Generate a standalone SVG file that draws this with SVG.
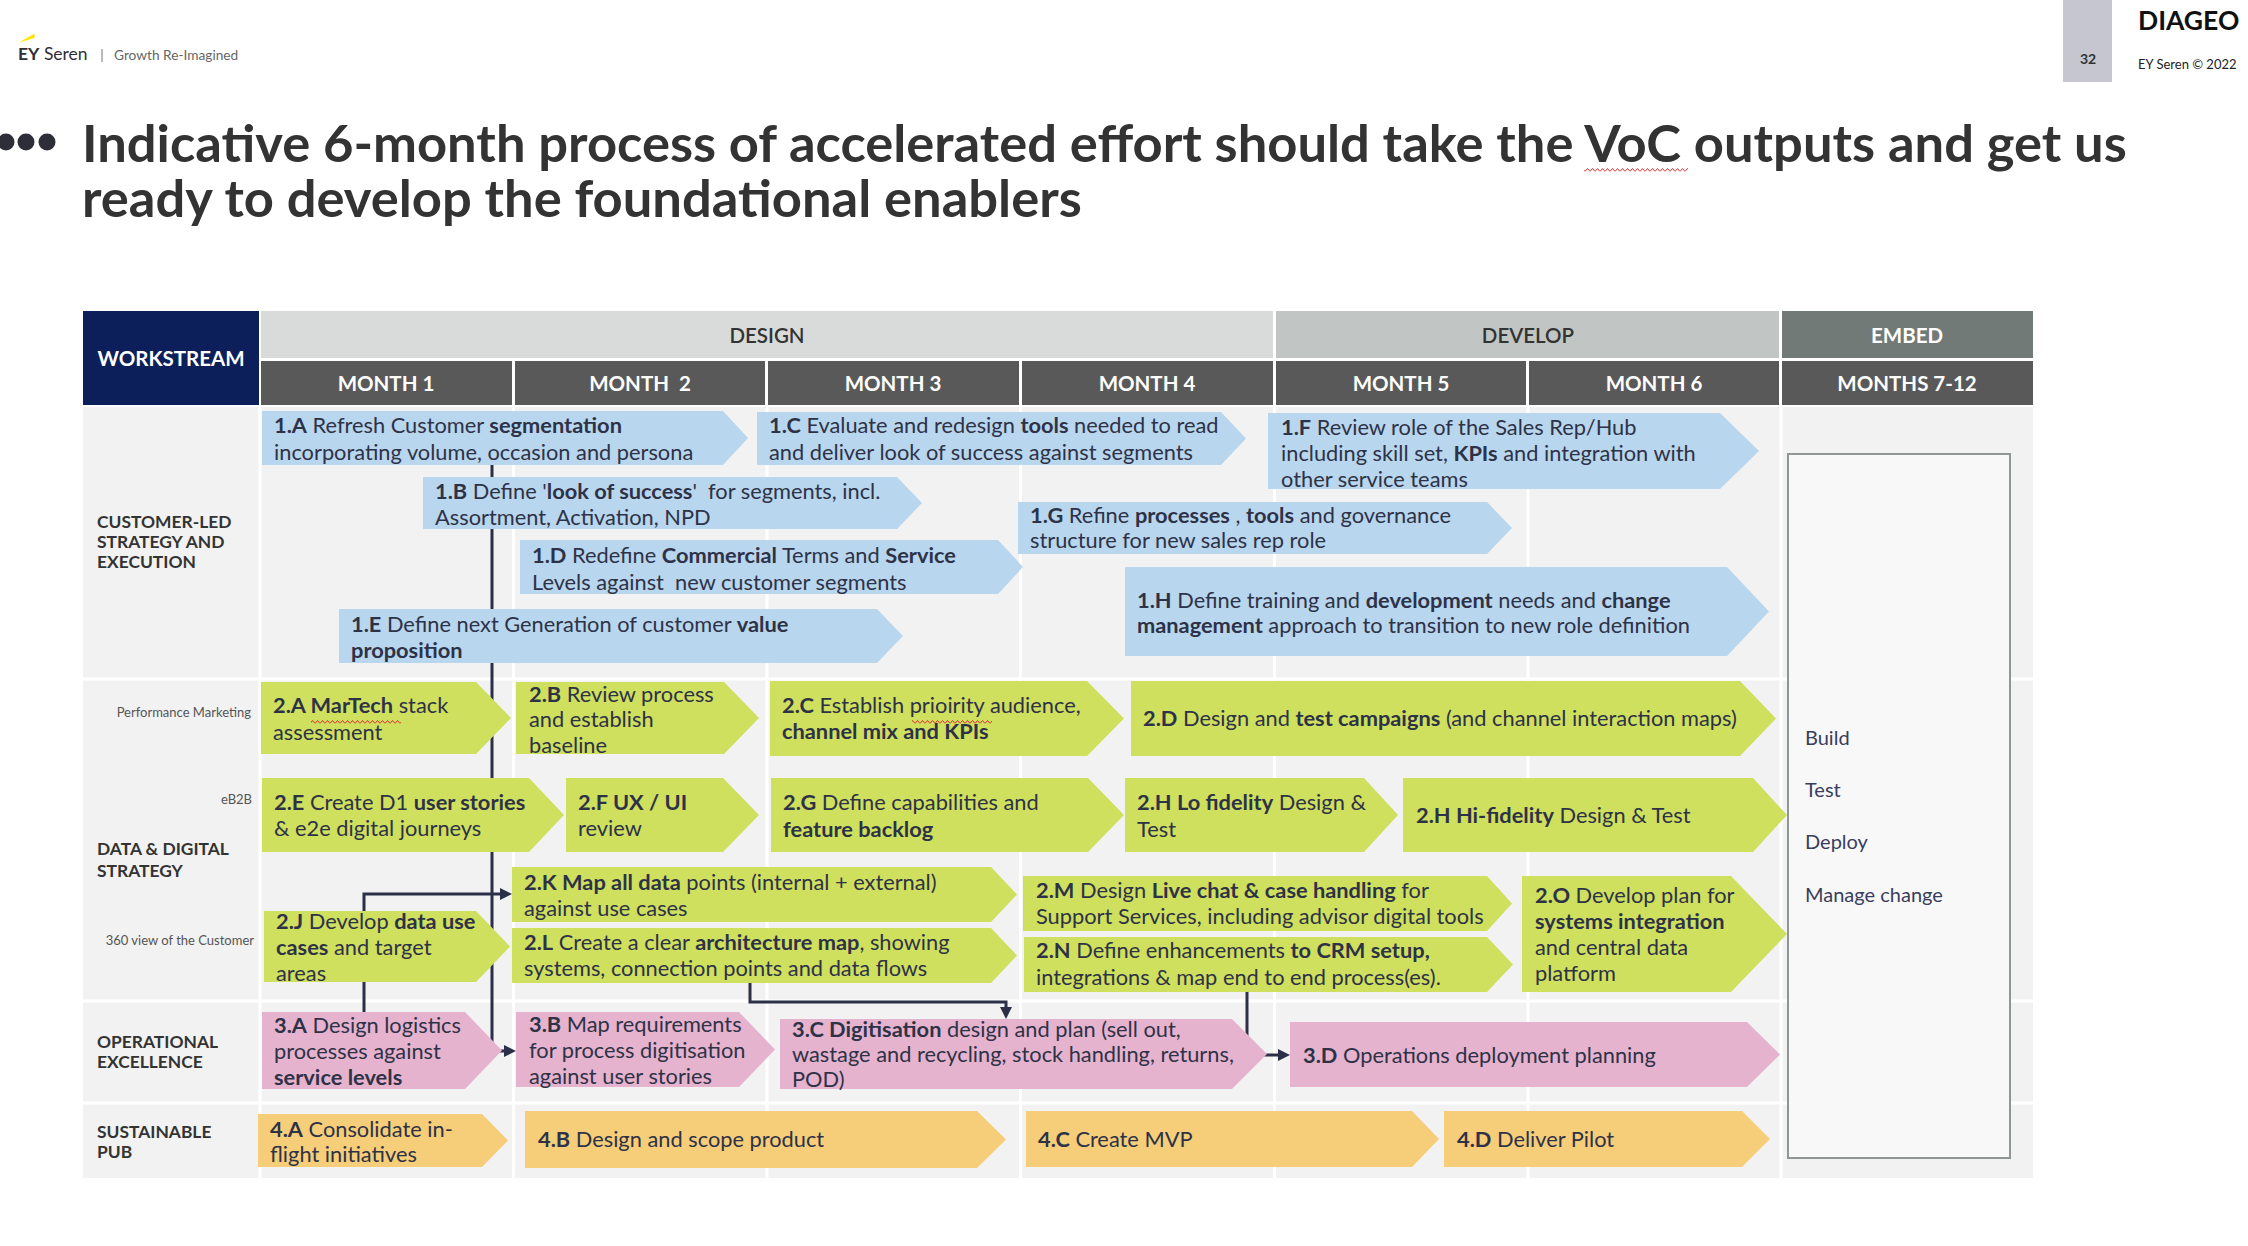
<svg xmlns="http://www.w3.org/2000/svg" width="2248" height="1246" viewBox="0 0 2248 1246">
<style>
text{font-family:Lato,"Open Sans","Noto Sans",sans-serif;white-space:pre}
.t{font-size:21.8px;fill:#2e3247}
.b{font-weight:700}
.blue{fill:#b8d6ee}
.green{fill:#cfdf5e}
.pink{fill:#e6b3ce}
.amber{fill:#f6cd79}
.conn{stroke:#2b3048;stroke-width:3;fill:none}
.lbl{font-size:17.4px;font-weight:700;fill:#333}
.sub{font-size:13px;fill:#555;text-anchor:end}
.hd{font-size:20.5px;font-weight:700;text-anchor:middle}
.emb{font-size:20px;fill:#3a3d5c}
.grid{stroke:#ffffff;stroke-width:3}
</style>
<defs>
<marker id="arr" viewBox="0 0 12 12" refX="4" refY="6" markerWidth="12" markerHeight="12" markerUnits="userSpaceOnUse" orient="auto"><path d="M0,0 L12,6 L0,12 z" fill="#2b3048"/></marker>
<pattern id="sq" width="5" height="4" patternUnits="userSpaceOnUse"><path d="M0,3.5 L2.5,0.5 L5,3.5" stroke="#e03030" fill="none" stroke-width="1"/></pattern>
</defs>
<rect width="2248" height="1246" fill="#ffffff"/>

<g id="logo">
<polygon points="19,42.5 34.5,33.5 34.5,38" fill="#ffe600"/>
<text x="18" y="60" style="font-size:17.5px;fill:#2e2e38"><tspan class="b">EY</tspan> Seren</text>
<line x1="102" y1="49" x2="102" y2="62" stroke="#777" stroke-width="1"/>
<text x="114" y="60" style="font-size:13.7px;fill:#666">Growth Re-Imagined</text>
</g>

<g id="pagebadge">
<rect x="2063" y="0" width="49" height="82" fill="#c5c6cf"/>
<text x="2088" y="64" style="font-size:14px;font-weight:700;fill:#333;text-anchor:middle">32</text>
<text x="2138" y="30" style="font-size:26.5px;font-weight:700;fill:#111">DIAGEO</text>
<text x="2138" y="69" style="font-size:13px;fill:#222">EY Seren © 2022</text>
</g>

<g id="title">
<circle cx="6" cy="142" r="8.5" fill="#2e2e38"/>
<circle cx="26" cy="142" r="8.5" fill="#2e2e38"/>
<circle cx="47" cy="142" r="8.5" fill="#2e2e38"/>
<text style="font-size:52.5px;font-weight:700;fill:#333"><tspan x="82" y="162">Indicative 6-month process of accelerated effort should take the VoC outputs and get us</tspan><tspan x="82" y="217">ready to develop the foundational enablers</tspan></text>
<rect x="1584" y="168" width="104" height="4" fill="url(#sq)"/>
</g>

<g id="header">
<rect x="83" y="311" width="176" height="94" fill="#0c1f5b"/>
<text x="171" y="366" class="hd" style="fill:#fff">WORKSTREAM</text>
<rect x="261" y="311" width="1012" height="47" fill="#d9dbdb"/>
<text x="767" y="343" class="hd" style="fill:#333;font-weight:600">DESIGN</text>
<rect x="1276" y="311" width="503" height="47" fill="#c1c6c4"/>
<text x="1528" y="343" class="hd" style="fill:#333;font-weight:600">DEVELOP</text>
<rect x="1782" y="311" width="251" height="47" fill="#717a77"/>
<text x="1907" y="343" class="hd" style="fill:#fff">EMBED</text>
<rect x="261" y="361" width="251" height="44" fill="#595959"/>
<rect x="515" y="361" width="250" height="44" fill="#595959"/>
<rect x="768" y="361" width="251" height="44" fill="#595959"/>
<rect x="1022" y="361" width="251" height="44" fill="#595959"/>
<rect x="1276" y="361" width="250" height="44" fill="#595959"/>
<rect x="1529" y="361" width="250" height="44" fill="#595959"/>
<rect x="1782" y="361" width="251" height="44" fill="#595959"/>
<text x="386" y="391" class="hd" style="fill:#fff">MONTH 1</text>
<text x="640" y="391" class="hd" style="fill:#fff">MONTH  2</text>
<text x="893" y="391" class="hd" style="fill:#fff">MONTH 3</text>
<text x="1147" y="391" class="hd" style="fill:#fff">MONTH 4</text>
<text x="1401" y="391" class="hd" style="fill:#fff">MONTH 5</text>
<text x="1654" y="391" class="hd" style="fill:#fff">MONTH 6</text>
<text x="1907" y="391" class="hd" style="fill:#fff">MONTHS 7-12</text>
</g>

<g id="body">
<rect x="83" y="407" width="1950" height="771" fill="#f2f2f2"/>
<line class="grid" x1="260" y1="407" x2="260" y2="1178"/>
<line class="grid" x1="513.5" y1="407" x2="513.5" y2="1178"/>
<line class="grid" x1="767" y1="407" x2="767" y2="1178"/>
<line class="grid" x1="1020.5" y1="407" x2="1020.5" y2="1178"/>
<line class="grid" x1="1274.5" y1="407" x2="1274.5" y2="1178"/>
<line class="grid" x1="1528" y1="407" x2="1528" y2="1178"/>
<line class="grid" x1="1781" y1="407" x2="1781" y2="1178"/>
<line class="grid" x1="83" y1="679" x2="2033" y2="679"/>
<line class="grid" x1="83" y1="1001" x2="2033" y2="1001"/>
<line class="grid" x1="83" y1="1103" x2="2033" y2="1103"/>
<text class="lbl"><tspan x="97" y="528">CUSTOMER-LED</tspan><tspan x="97" y="548">STRATEGY AND</tspan><tspan x="97" y="568">EXECUTION</tspan></text>
<text class="lbl"><tspan x="97" y="855">DATA &amp; DIGITAL</tspan><tspan x="97" y="877">STRATEGY</tspan></text>
<text class="lbl"><tspan x="97" y="1048">OPERATIONAL</tspan><tspan x="97" y="1068">EXCELLENCE</tspan></text>
<text class="lbl"><tspan x="97" y="1138">SUSTAINABLE</tspan><tspan x="97" y="1158">PUB</tspan></text>
<text class="sub" x="251" y="717">Performance Marketing</text>
<text class="sub" x="252" y="804">eB2B</text>
<text class="sub" x="254" y="945">360 view of the Customer</text>
</g>

<g id="embed">
<rect x="1788" y="454" width="222" height="704" fill="#f8f8f8" stroke="#8f9794" stroke-width="2"/>
<text class="emb" x="1805" y="745">Build</text>
<text class="emb" x="1805" y="797">Test</text>
<text class="emb" x="1805" y="849">Deploy</text>
<text class="emb" x="1805" y="902">Manage change</text>
</g>

<g id="connectors">
<path class="conn" d="M492,465 V1051 H508" marker-end="url(#arr)"/>
<path class="conn" d="M364,911 V894 H504" marker-end="url(#arr)"/>
<path class="conn" d="M364,982 V1012"/>
<path class="conn" d="M750,983 V1002 H1006 V1011" marker-end="url(#arr)"/>
<path class="conn" d="M1247,992 V1055 H1282" marker-end="url(#arr)"/>
</g>

<g id="n1A"><polygon class="blue" points="262,411 723,411 748,438 723,465 262,465"/>
<text class="t"><tspan x="274" y="433"><tspan class="b">1.A</tspan> Refresh Customer <tspan class="b">segmentation</tspan></tspan><tspan x="274" y="460">incorporating volume, occasion and persona</tspan></text></g>

<g id="n1B"><polygon class="blue" points="423,477 897,477 922,503 897,529 423,529"/>
<text class="t"><tspan x="435" y="499"><tspan class="b">1.B</tspan> Define '<tspan class="b">look of success</tspan>'  for segments, incl.</tspan><tspan x="435" y="525">Assortment, Activation, NPD</tspan></text></g>

<g id="n1C"><polygon class="blue" points="757,412 1221,412 1246,438.5 1221,465 757,465"/>
<text class="t"><tspan x="769" y="433"><tspan class="b">1.C</tspan> Evaluate and redesign <tspan class="b">tools</tspan> needed to read</tspan><tspan x="769" y="460">and deliver look of success against segments</tspan></text></g>

<g id="n1D"><polygon class="blue" points="520,540 998,540 1023,567 998,594 520,594"/>
<text class="t"><tspan x="532" y="563"><tspan class="b">1.D</tspan> Redefine <tspan class="b">Commercial</tspan> Terms and <tspan class="b">Service</tspan></tspan><tspan x="532" y="590">Levels against  new customer segments</tspan></text></g>

<g id="n1E"><polygon class="blue" points="339,609 877,609 903,636 877,663 339,663"/>
<text class="t"><tspan x="351" y="632"><tspan class="b">1.E</tspan> Define next Generation of customer <tspan class="b">value</tspan></tspan><tspan x="351" y="658" class="b">proposition</tspan></text></g>

<g id="n1F"><polygon class="blue" points="1268,413 1720,413 1759,451 1720,489 1268,489"/>
<text class="t"><tspan x="1281" y="435"><tspan class="b">1.F</tspan> Review role of the Sales Rep/Hub</tspan><tspan x="1281" y="461">including skill set, <tspan class="b">KPIs</tspan> and integration with</tspan><tspan x="1281" y="487">other service teams</tspan></text></g>

<g id="n1G"><polygon class="blue" points="1018,502 1487,502 1512,528 1487,554 1018,554"/>
<text class="t"><tspan x="1030" y="523"><tspan class="b">1.G</tspan> Refine <tspan class="b">processes</tspan> , <tspan class="b">tools</tspan> and governance</tspan><tspan x="1030" y="548">structure for new sales rep role</tspan></text></g>

<g id="n1H"><polygon class="blue" points="1125,567 1727,567 1769,611.5 1727,656 1125,656"/>
<text class="t"><tspan x="1137" y="608"><tspan class="b">1.H</tspan> Define training and <tspan class="b">development</tspan> needs and <tspan class="b">change</tspan></tspan><tspan x="1137" y="633"><tspan class="b">management</tspan> approach to transition to new role definition</tspan></text></g>

<g id="n2A"><polygon class="green" points="261,682 476,682 511,718 476,754 261,754"/>
<text class="t"><tspan x="273" y="713"><tspan class="b">2.A MarTech</tspan> stack</tspan><tspan x="273" y="740">assessment</tspan></text>
<rect x="311" y="720" width="90" height="4" fill="url(#sq)"/></g>

<g id="n2B"><polygon class="green" points="516,682 724,682 759,718 724,754 516,754"/>
<text class="t"><tspan x="529" y="702"><tspan class="b">2.B</tspan> Review process</tspan><tspan x="529" y="727">and establish</tspan><tspan x="529" y="753">baseline</tspan></text></g>

<g id="n2C"><polygon class="green" points="770,681 1087,681 1124,718.5 1087,756 770,756"/>
<text class="t"><tspan x="782" y="713"><tspan class="b">2.C</tspan> Establish prioirity audience,</tspan><tspan x="782" y="739" class="b">channel mix and KPIs</tspan></text>
<rect x="912" y="720" width="80" height="4" fill="url(#sq)"/></g>

<g id="n2D"><polygon class="green" points="1131,681 1740,681 1776,718.5 1740,756 1131,756"/>
<text class="t"><tspan x="1143" y="726"><tspan class="b">2.D</tspan> Design and <tspan class="b">test campaigns</tspan> (and channel interaction maps)</tspan></text></g>

<g id="n2E"><polygon class="green" points="262,778 529,778 564,815 529,852 262,852"/>
<text class="t"><tspan x="274" y="810"><tspan class="b">2.E</tspan> Create D1 <tspan class="b">user stories</tspan></tspan><tspan x="274" y="836">&amp; e2e digital journeys</tspan></text></g>

<g id="n2F"><polygon class="green" points="566,778 723,778 759,815 723,852 566,852"/>
<text class="t"><tspan x="578" y="810" class="b">2.F UX / UI</tspan><tspan x="578" y="836">review</tspan></text></g>

<g id="n2G"><polygon class="green" points="771,778 1088,778 1124,815 1088,852 771,852"/>
<text class="t"><tspan x="783" y="810"><tspan class="b">2.G</tspan> Define capabilities and</tspan><tspan x="783" y="837" class="b">feature backlog</tspan></text></g>

<g id="n2HLo"><polygon class="green" points="1125,778 1364,778 1398,815 1364,852 1125,852"/>
<text class="t"><tspan x="1137" y="810"><tspan class="b">2.H Lo fidelity</tspan> Design &amp;</tspan><tspan x="1137" y="837">Test</tspan></text></g>

<g id="n2HHi"><polygon class="green" points="1403,778 1753,778 1787,815 1753,852 1403,852"/>
<text class="t"><tspan x="1416" y="823"><tspan class="b">2.H Hi-fidelity</tspan> Design &amp; Test</tspan></text></g>

<g id="n2J"><polygon class="green" points="264,911 476,911 510,946.5 476,982 264,982"/>
<text class="t"><tspan x="276" y="929"><tspan class="b">2.J</tspan> Develop <tspan class="b">data use</tspan></tspan><tspan x="276" y="955"><tspan class="b">cases</tspan> and target</tspan><tspan x="276" y="981">areas</tspan></text></g>

<g id="n2K"><polygon class="green" points="512,867 991,867 1017,894.5 991,922 512,922"/>
<text class="t"><tspan x="524" y="890"><tspan class="b">2.K Map all data</tspan> points (internal + external)</tspan><tspan x="524" y="916">against use cases</tspan></text></g>

<g id="n2L"><polygon class="green" points="512,928 991,928 1017,955.5 991,983 512,983"/>
<text class="t"><tspan x="524" y="950"><tspan class="b">2.L</tspan> Create a clear <tspan class="b">architecture map</tspan>, showing</tspan><tspan x="524" y="976">systems, connection points and data flows</tspan></text></g>

<g id="n2M"><polygon class="green" points="1023,876 1487,876 1512,903.5 1487,931 1023,931"/>
<text class="t"><tspan x="1036" y="898"><tspan class="b">2.M</tspan> Design <tspan class="b">Live chat &amp; case handling</tspan> for</tspan><tspan x="1036" y="924">Support Services, including advisor digital tools</tspan></text></g>

<g id="n2N"><polygon class="green" points="1024,937 1487,937 1513,964.5 1487,992 1024,992"/>
<text class="t"><tspan x="1036" y="958"><tspan class="b">2.N</tspan> Define enhancements <tspan class="b">to CRM setup,</tspan></tspan><tspan x="1036" y="985">integrations &amp; map end to end process(es).</tspan></text></g>

<g id="n2O"><polygon class="green" points="1522,876 1731,876 1787,934 1731,992 1522,992"/>
<text class="t"><tspan x="1535" y="903"><tspan class="b">2.O</tspan> Develop plan for</tspan><tspan x="1535" y="929" class="b">systems integration</tspan><tspan x="1535" y="955">and central data</tspan><tspan x="1535" y="981">platform</tspan></text></g>

<g id="n3A"><polygon class="pink" points="262,1012 465,1012 502,1050.5 465,1089 262,1089"/>
<text class="t"><tspan x="274" y="1033"><tspan class="b">3.A</tspan> Design logistics</tspan><tspan x="274" y="1059">processes against</tspan><tspan x="274" y="1085" class="b">service levels</tspan></text></g>

<g id="n3B"><polygon class="pink" points="516,1012 739,1012 775,1049.5 739,1087 516,1087"/>
<text class="t"><tspan x="529" y="1032"><tspan class="b">3.B</tspan> Map requirements</tspan><tspan x="529" y="1058">for process digitisation</tspan><tspan x="529" y="1084">against user stories</tspan></text></g>

<g id="n3C"><polygon class="pink" points="780,1019 1232,1019 1267,1054 1232,1089 780,1089"/>
<text class="t"><tspan x="792" y="1037"><tspan class="b">3.C Digitisation</tspan> design and plan (sell out,</tspan><tspan x="792" y="1062">wastage and recycling, stock handling, returns,</tspan><tspan x="792" y="1087">POD)</tspan></text></g>

<g id="n3D"><polygon class="pink" points="1290,1022 1747,1022 1780,1054.5 1747,1087 1290,1087"/>
<text class="t"><tspan x="1303" y="1063"><tspan class="b">3.D</tspan> Operations deployment planning</tspan></text></g>

<g id="n4A"><polygon class="amber" points="258,1114 482,1114 508,1140.5 482,1167 258,1167"/>
<text class="t"><tspan x="270" y="1137"><tspan class="b">4.A</tspan> Consolidate in-</tspan><tspan x="270" y="1162">flight initiatives</tspan></text></g>

<g id="n4B"><polygon class="amber" points="525,1111 977,1111 1006,1139.5 977,1168 525,1168"/>
<text class="t"><tspan x="538" y="1147"><tspan class="b">4.B</tspan> Design and scope product</tspan></text></g>

<g id="n4C"><polygon class="amber" points="1026,1111 1412,1111 1439,1139 1412,1167 1026,1167"/>
<text class="t"><tspan x="1038" y="1147"><tspan class="b">4.C</tspan> Create MVP</tspan></text></g>

<g id="n4D"><polygon class="amber" points="1444,1111 1742,1111 1770,1139 1742,1167 1444,1167"/>
<text class="t"><tspan x="1457" y="1147"><tspan class="b">4.D</tspan> Deliver Pilot</tspan></text></g>
</svg>
